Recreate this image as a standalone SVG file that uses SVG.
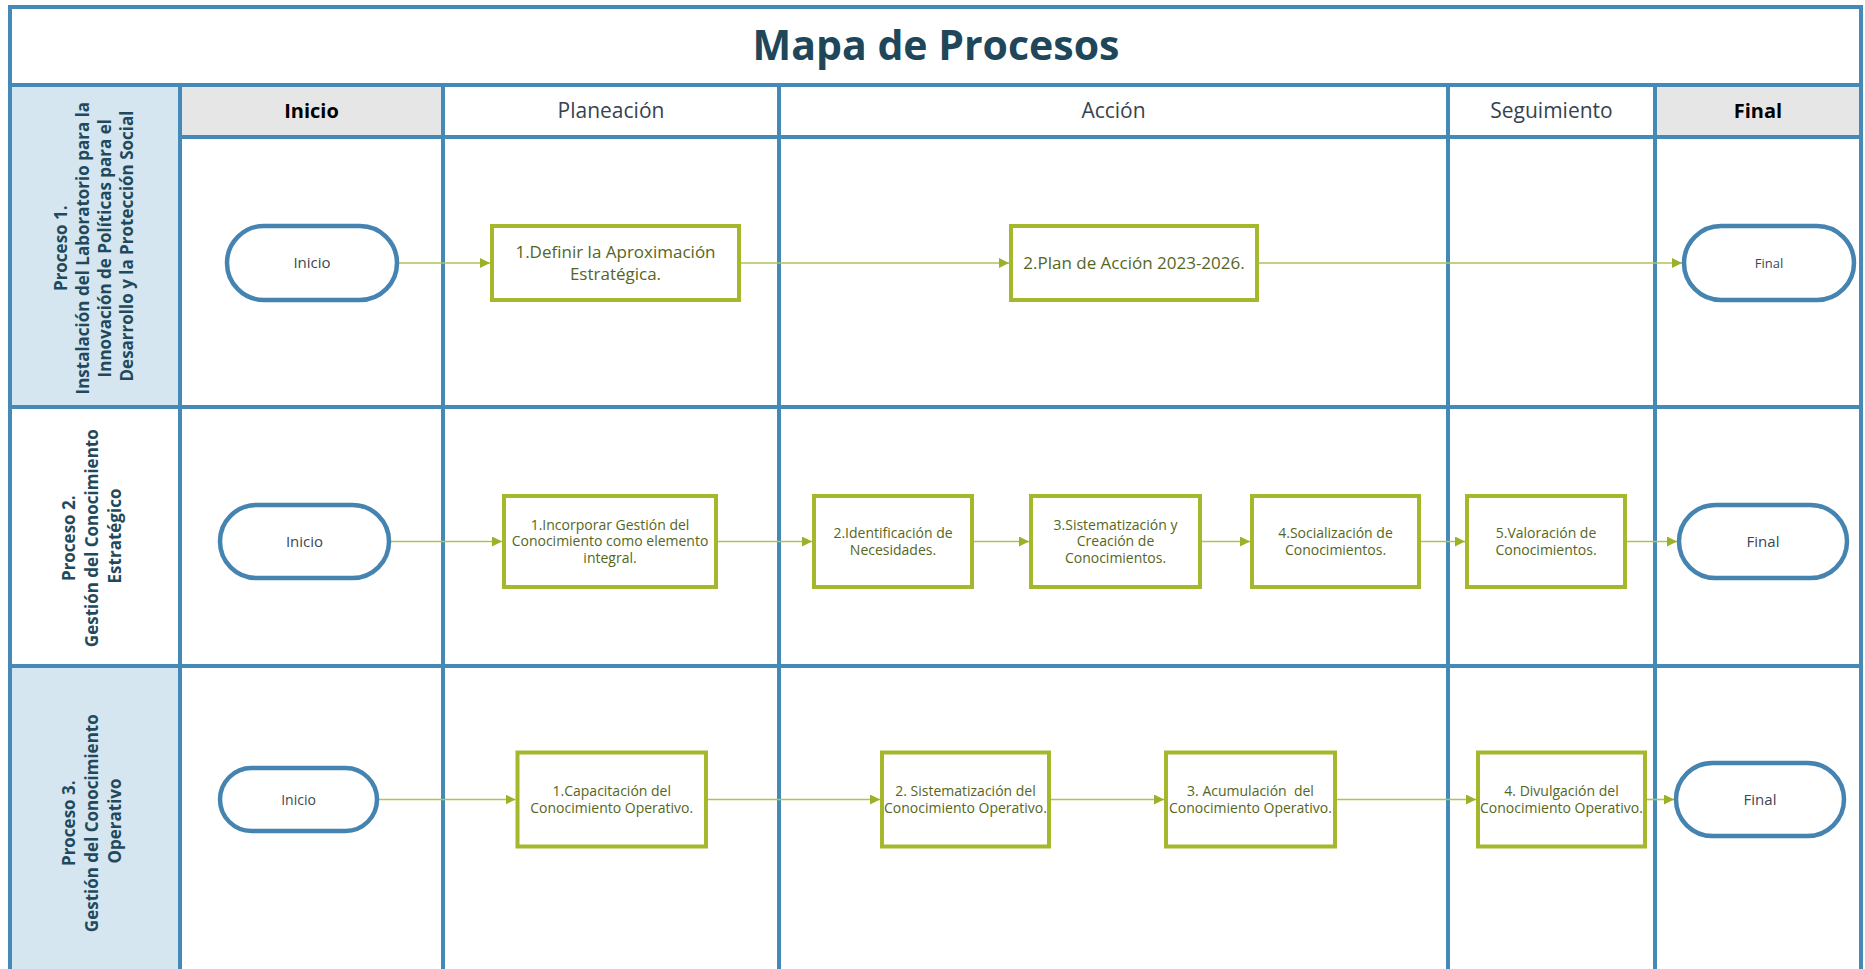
<svg xmlns="http://www.w3.org/2000/svg" width="1865" height="969" viewBox="0 0 1865 969">
<style>
  .grid { stroke: #4589B7; stroke-width: 4; fill: none; }
  .lanefill { fill: #D6E6F0; }
  .hdrfill { fill: #E6E6E6; }
  .title { font-family: "Open Sans", "Noto Sans", sans-serif; font-weight: bold; font-size: 41px; fill: #204659; text-anchor: middle; }
  .hdr { font-family: "Open Sans", "Noto Sans", sans-serif; font-size: 21px; fill: #36434F; text-anchor: middle; }
  .hdrb { font-family: "Open Sans", "Noto Sans", sans-serif; font-size: 20px; font-weight: bold; fill: #000000; text-anchor: middle; }
  .lane { font-family: "Open Sans", "Noto Sans", sans-serif; font-size: 17px; font-weight: bold; fill: #1F4A5E; text-anchor: middle; }
  .term { fill: #FFFFFF; stroke: #4584B0; stroke-width: 4.5; }
  .termt { font-family: "Open Sans", "Noto Sans", sans-serif; fill: #3A4754; text-anchor: middle; }
  .box { fill: #FFFFFF; stroke: #A5B82C; stroke-width: 4; }
  .boxt { font-family: "Open Sans", "Noto Sans", sans-serif; fill: #56661C; text-anchor: middle; }
  .t17 { font-size: 17px; }
  .t14 { font-size: 14px; }
  .conn { stroke: #AFC25A; stroke-width: 1.6; fill: none; marker-end: url(#arr); }
</style>
<defs>
  <marker id="arr" markerUnits="userSpaceOnUse" markerWidth="11" markerHeight="11" refX="10" refY="5" orient="auto">
    <path d="M0,0 L10,5 L0,10 z" fill="#9CB12A"/>
  </marker>
</defs>

<g id="background">
  <rect x="0" y="0" width="1865" height="969" fill="#FFFFFF"/>
  <rect class="lanefill" x="10" y="85" width="170" height="322"/>
  <rect class="lanefill" x="10" y="666" width="170" height="303"/>
  <rect class="hdrfill" x="180" y="85" width="263" height="52"/>
  <rect class="hdrfill" x="1655" y="85" width="206" height="52"/>
</g>

<g id="grid">
  <line class="grid" x1="10" y1="7" x2="1861" y2="7"/>
  <line class="grid" x1="10" y1="5" x2="10" y2="969"/>
  <line class="grid" x1="1861" y1="5" x2="1861" y2="969"/>
  <line class="grid" x1="10" y1="85" x2="1861" y2="85"/>
  <line class="grid" x1="180" y1="137" x2="1861" y2="137"/>
  <line class="grid" x1="10" y1="407" x2="1861" y2="407"/>
  <line class="grid" x1="10" y1="666" x2="1861" y2="666"/>
  <line class="grid" x1="180" y1="85" x2="180" y2="969"/>
  <line class="grid" x1="443" y1="85" x2="443" y2="969"/>
  <line class="grid" x1="779" y1="85" x2="779" y2="969"/>
  <line class="grid" x1="1448" y1="85" x2="1448" y2="969"/>
  <line class="grid" x1="1655" y1="85" x2="1655" y2="969"/>
</g>

<g id="title">
  <text class="title" x="936" y="60">Mapa de Procesos</text>
</g>

<g id="headers">
  <text class="hdrb" x="311.5" y="118">Inicio</text>
  <text class="hdr" x="611" y="118">Planeación</text>
  <text class="hdr" x="1113.5" y="118">Acción</text>
  <text class="hdr" x="1551.5" y="118">Seguimiento</text>
  <text class="hdrb" x="1758" y="118">Final</text>
</g>

<g id="lane-labels">
  <g id="lane1-label">
    <text class="lane" transform="translate(0,246) rotate(-90)">
      <tspan x="0" y="67">Proceso 1.</tspan>
      <tspan x="0" y="89">Instalación del Laboratorio para la</tspan>
      <tspan x="0" y="111">Innovación de Políticas para el</tspan>
      <tspan x="0" y="133">Desarrollo y la Protección Social</tspan>
    </text>
  </g>
  <g id="lane2-label">
    <text class="lane" transform="translate(0,536) rotate(-90)">
      <tspan x="0" y="75">Proceso 2.</tspan>
      <tspan x="0" y="98">Gestión del Conocimiento</tspan>
      <tspan x="0" y="121">Estratégico</tspan>
    </text>
  </g>
  <g id="lane3-label">
    <text class="lane" transform="translate(0,821) rotate(-90)">
      <tspan x="0" y="75">Proceso 3.</tspan>
      <tspan x="0" y="98">Gestión del Conocimiento</tspan>
      <tspan x="0" y="121">Operativo</tspan>
    </text>
  </g>
</g>

<g id="connectors">
  <line class="conn" x1="397" y1="263" x2="490" y2="263"/>
  <line class="conn" x1="741" y1="263" x2="1009" y2="263"/>
  <line class="conn" x1="1259" y1="263" x2="1682" y2="263"/>

  <line class="conn" x1="391" y1="541.5" x2="502" y2="541.5"/>
  <line class="conn" x1="718" y1="541.5" x2="812" y2="541.5"/>
  <line class="conn" x1="974" y1="541.5" x2="1029" y2="541.5"/>
  <line class="conn" x1="1202" y1="541.5" x2="1250" y2="541.5"/>
  <line class="conn" x1="1421" y1="541.5" x2="1465" y2="541.5"/>
  <line class="conn" x1="1627" y1="541.5" x2="1677" y2="541.5"/>

  <line class="conn" x1="379" y1="799.5" x2="515.5" y2="799.5"/>
  <line class="conn" x1="708" y1="799.5" x2="880" y2="799.5"/>
  <line class="conn" x1="1051" y1="799.5" x2="1164" y2="799.5"/>
  <line class="conn" x1="1337" y1="799.5" x2="1476" y2="799.5"/>
  <line class="conn" x1="1647" y1="799.5" x2="1674" y2="799.5"/>
</g>

<g id="p1-inicio">
  <rect class="term" x="227" y="226" width="170" height="74" rx="37"/>
  <text class="termt" x="312" y="268" font-size="15">Inicio</text>
</g>
<g id="p1-step1">
  <rect class="box" x="492" y="226" width="247" height="74"/>
  <text class="boxt t17" x="615.5" y="258">1.Definir la Aproximación</text>
  <text class="boxt t17" x="615.5" y="280">Estratégica.</text>
</g>
<g id="p1-step2">
  <rect class="box" x="1011" y="226" width="246" height="74"/>
  <text class="boxt t17" x="1134" y="269">2.Plan de Acción 2023-2026.</text>
</g>
<g id="p1-final">
  <rect class="term" x="1684" y="226" width="170" height="74" rx="37"/>
  <text class="termt" x="1769" y="268" font-size="13">Final</text>
</g>

<g id="p2-inicio">
  <rect class="term" x="220" y="505" width="169" height="73" rx="36.5"/>
  <text class="termt" x="304.5" y="546.5" font-size="15">Inicio</text>
</g>
<g id="p2-step1">
  <rect class="box" x="504" y="496" width="212" height="91"/>
  <text class="boxt t14" x="610" y="529.5">1.Incorporar Gestión del</text>
  <text class="boxt t14" x="610" y="546">Conocimiento como elemento</text>
  <text class="boxt t14" x="610" y="562.5">integral.</text>
</g>
<g id="p2-step2">
  <rect class="box" x="814" y="496" width="158" height="91"/>
  <text class="boxt t14" x="893" y="537.5">2.Identificación de</text>
  <text class="boxt t14" x="893" y="554.5">Necesidades.</text>
</g>
<g id="p2-step3">
  <rect class="box" x="1031" y="496" width="169" height="91"/>
  <text class="boxt t14" x="1115.5" y="529.5">3.Sistematización y</text>
  <text class="boxt t14" x="1115.5" y="546">Creación de</text>
  <text class="boxt t14" x="1115.5" y="562.5">Conocimientos.</text>
</g>
<g id="p2-step4">
  <rect class="box" x="1252" y="496" width="167" height="91"/>
  <text class="boxt t14" x="1335.5" y="537.5">4.Socialización de</text>
  <text class="boxt t14" x="1335.5" y="554.5">Conocimientos.</text>
</g>
<g id="p2-step5">
  <rect class="box" x="1467" y="496" width="158" height="91"/>
  <text class="boxt t14" x="1546" y="537.5">5.Valoración de</text>
  <text class="boxt t14" x="1546" y="554.5">Conocimientos.</text>
</g>
<g id="p2-final">
  <rect class="term" x="1679" y="505" width="168" height="73" rx="36.5"/>
  <text class="termt" x="1763" y="546.5" font-size="15">Final</text>
</g>

<g id="p3-inicio">
  <rect class="term" x="220" y="768" width="157" height="63" rx="31.5"/>
  <text class="termt" x="298.5" y="804.5" font-size="14">Inicio</text>
</g>
<g id="p3-step1">
  <rect class="box" x="517.5" y="752.5" width="188.5" height="94"/>
  <text class="boxt t14" x="611.75" y="796">1.Capacitación del</text>
  <text class="boxt t14" x="611.75" y="813">Conocimiento Operativo.</text>
</g>
<g id="p3-step2">
  <rect class="box" x="882" y="752.5" width="167" height="94"/>
  <text class="boxt t14" x="965.5" y="796">2. Sistematización del</text>
  <text class="boxt t14" x="965.5" y="813">Conocimiento Operativo.</text>
</g>
<g id="p3-step3">
  <rect class="box" x="1166" y="752.5" width="169" height="94"/>
  <text class="boxt t14" x="1250.5" y="796" style="white-space:pre">3. Acumulación  del</text>
  <text class="boxt t14" x="1250.5" y="813">Conocimiento Operativo.</text>
</g>
<g id="p3-step4">
  <rect class="box" x="1478" y="752.5" width="167" height="94"/>
  <text class="boxt t14" x="1561.5" y="796">4. Divulgación del</text>
  <text class="boxt t14" x="1561.5" y="813">Conocimiento Operativo.</text>
</g>
<g id="p3-final">
  <rect class="term" x="1676" y="763" width="168" height="73" rx="36.5"/>
  <text class="termt" x="1760" y="804.5" font-size="15">Final</text>
</g>
</svg>
